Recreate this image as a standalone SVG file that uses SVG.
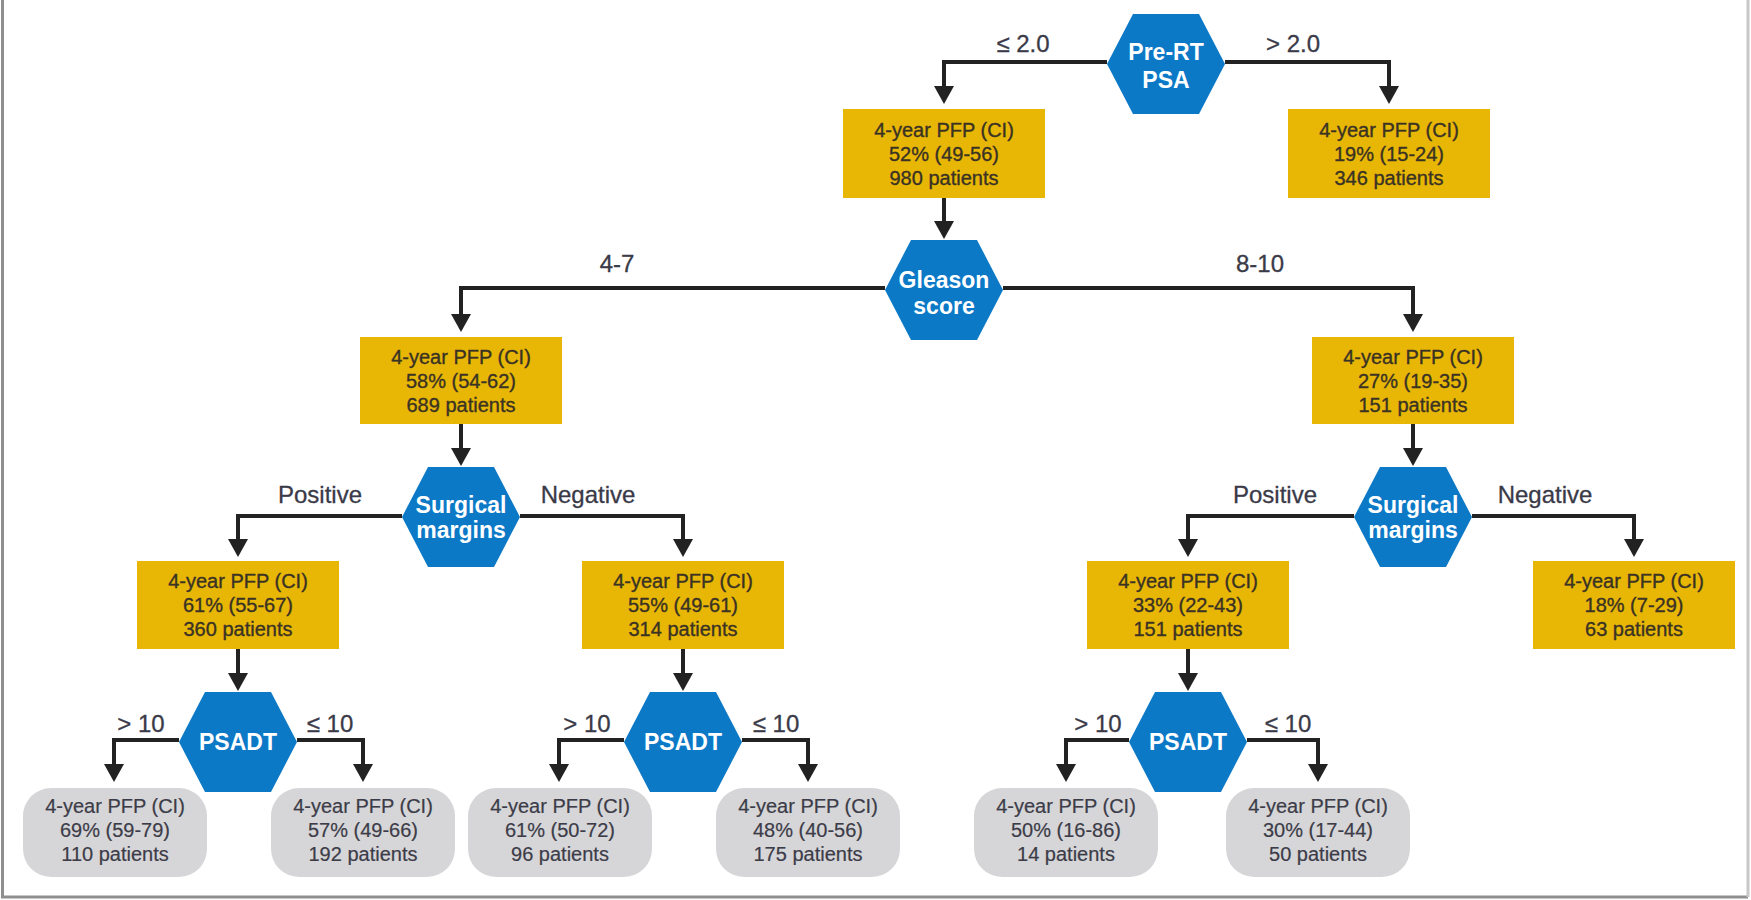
<svg xmlns="http://www.w3.org/2000/svg" xmlns:xlink="http://www.w3.org/1999/xlink" width="1751" height="900" viewBox="0 0 1751 900">
<style>
.box{fill:#E8B706}
.leaf{fill:#D6D6D8}
.hex{fill:#0C79C7}
.bt{font-family:"Liberation Sans",Arial,sans-serif;font-size:20px;fill:#3a3224;stroke:#3a3224;stroke-width:0.35;text-anchor:middle}
.lt{font-family:"Liberation Sans",Arial,sans-serif;font-size:20px;fill:#3c3c48;stroke:#3c3c48;stroke-width:0.2;text-anchor:middle}
.ht{font-family:"Liberation Sans",Arial,sans-serif;font-size:23px;font-weight:bold;fill:#ffffff;text-anchor:middle}
.el{font-family:"Liberation Sans",Arial,sans-serif;font-size:24px;fill:#3a3a48;stroke:#3a3a48;stroke-width:0.3;text-anchor:middle}
.cn{fill:none;stroke:#222222;stroke-width:4;marker-end:url(#ah)}
</style>
<defs>
<marker id="ah" markerUnits="userSpaceOnUse" markerWidth="18" markerHeight="20" viewBox="0 0 18 20" refX="8" refY="10" orient="auto">
<path d="M0,0 L18,10 L0,20 z" fill="#222222"/>
</marker>
<polygon id="hexshape" points="-59,0 -33,-50 33,-50 59,0 33,50 -33,50"/>
</defs>
<rect width="1751" height="900" fill="#ffffff"/>
<path d="M2.5,0 V897 H1748" fill="none" stroke="#8f8f8f" stroke-width="3"/>
<path d="M1748,0 V897" fill="none" stroke="#c8c8c8" stroke-width="3"/>

<g id="connectors">
<path class="cn" d="M1107,62 H944 V94"/>
<path class="cn" d="M1225,62 H1389 V94"/>
<path class="cn" d="M944,198 V229"/>
<path class="cn" d="M885,288 H461 V322"/>
<path class="cn" d="M1003,288 H1413 V322"/>
<path class="cn" d="M461,424 V456"/>
<path class="cn" d="M402,516 H238 V547"/>
<path class="cn" d="M520,516 H683 V547"/>
<path class="cn" d="M1413,424 V456"/>
<path class="cn" d="M1354,516 H1188 V547"/>
<path class="cn" d="M1472,516 H1634 V547"/>
<path class="cn" d="M238,649 V681"/>
<path class="cn" d="M179,740 H114 V772"/>
<path class="cn" d="M297,740 H363 V772"/>
<path class="cn" d="M683,649 V681"/>
<path class="cn" d="M624,740 H559 V772"/>
<path class="cn" d="M742,740 H808 V772"/>
<path class="cn" d="M1188,649 V681"/>
<path class="cn" d="M1129,740 H1066 V772"/>
<path class="cn" d="M1247,740 H1318 V772"/>
<text class="el" x="1023" y="52">≤ 2.0</text>
<text class="el" x="1293" y="52">&gt; 2.0</text>
<text class="el" x="617" y="272">4-7</text>
<text class="el" x="1260" y="272">8-10</text>
<text class="el" x="320" y="503">Positive</text>
<text class="el" x="588" y="503">Negative</text>
<text class="el" x="1275" y="503">Positive</text>
<text class="el" x="1545" y="503">Negative</text>
<text class="el" x="141" y="732">&gt; 10</text>
<text class="el" x="330" y="732">≤ 10</text>
<text class="el" x="587" y="732">&gt; 10</text>
<text class="el" x="776" y="732">≤ 10</text>
<text class="el" x="1098" y="732">&gt; 10</text>
<text class="el" x="1288" y="732">≤ 10</text>
</g>

<g id="n-prert">
<use xlink:href="#hexshape" class="hex" x="1166" y="64"/>
<text class="ht" x="1166" y="60">Pre-RT</text>
<text class="ht" x="1166" y="88">PSA</text>
</g>
<g id="n-a">
<rect class="box" x="843" y="109" width="202" height="89"/>
<text class="bt" x="944" y="137">4-year PFP (CI)</text>
<text class="bt" x="944" y="161">52% (49-56)</text>
<text class="bt" x="944" y="185">980 patients</text>
</g>
<g id="n-b">
<rect class="box" x="1288" y="109" width="202" height="89"/>
<text class="bt" x="1389" y="137">4-year PFP (CI)</text>
<text class="bt" x="1389" y="161">19% (15-24)</text>
<text class="bt" x="1389" y="185">346 patients</text>
</g>
<g id="n-gleason">
<use xlink:href="#hexshape" class="hex" x="944" y="290"/>
<text class="ht" x="944" y="288">Gleason</text>
<text class="ht" x="944" y="314">score</text>
</g>
<g id="n-c">
<rect class="box" x="360" y="337" width="202" height="87"/>
<text class="bt" x="461" y="364">4-year PFP (CI)</text>
<text class="bt" x="461" y="388">58% (54-62)</text>
<text class="bt" x="461" y="412">689 patients</text>
</g>
<g id="n-d">
<rect class="box" x="1312" y="337" width="202" height="87"/>
<text class="bt" x="1413" y="364">4-year PFP (CI)</text>
<text class="bt" x="1413" y="388">27% (19-35)</text>
<text class="bt" x="1413" y="412">151 patients</text>
</g>
<g id="n-sm-left">
<use xlink:href="#hexshape" class="hex" x="461" y="517"/>
<text class="ht" x="461" y="513">Surgical</text>
<text class="ht" x="461" y="538">margins</text>
</g>
<g id="n-sm-right">
<use xlink:href="#hexshape" class="hex" x="1413" y="517"/>
<text class="ht" x="1413" y="513">Surgical</text>
<text class="ht" x="1413" y="538">margins</text>
</g>
<g id="n-e">
<rect class="box" x="137" y="561" width="202" height="88"/>
<text class="bt" x="238" y="588">4-year PFP (CI)</text>
<text class="bt" x="238" y="612">61% (55-67)</text>
<text class="bt" x="238" y="636">360 patients</text>
</g>
<g id="n-f">
<rect class="box" x="582" y="561" width="202" height="88"/>
<text class="bt" x="683" y="588">4-year PFP (CI)</text>
<text class="bt" x="683" y="612">55% (49-61)</text>
<text class="bt" x="683" y="636">314 patients</text>
</g>
<g id="n-g">
<rect class="box" x="1087" y="561" width="202" height="88"/>
<text class="bt" x="1188" y="588">4-year PFP (CI)</text>
<text class="bt" x="1188" y="612">33% (22-43)</text>
<text class="bt" x="1188" y="636">151 patients</text>
</g>
<g id="n-h">
<rect class="box" x="1533" y="561" width="202" height="88"/>
<text class="bt" x="1634" y="588">4-year PFP (CI)</text>
<text class="bt" x="1634" y="612">18% (7-29)</text>
<text class="bt" x="1634" y="636">63 patients</text>
</g>
<g id="n-psadt-1">
<use xlink:href="#hexshape" class="hex" x="238" y="742"/>
<text class="ht" x="238" y="750">PSADT</text>
</g>
<g id="n-psadt-2">
<use xlink:href="#hexshape" class="hex" x="683" y="742"/>
<text class="ht" x="683" y="750">PSADT</text>
</g>
<g id="n-psadt-3">
<use xlink:href="#hexshape" class="hex" x="1188" y="742"/>
<text class="ht" x="1188" y="750">PSADT</text>
</g>
<g id="n-i">
<rect class="leaf" x="23" y="788" width="184" height="89" rx="28"/>
<text class="lt" x="115" y="813">4-year PFP (CI)</text>
<text class="lt" x="115" y="837">69% (59-79)</text>
<text class="lt" x="115" y="861">110 patients</text>
</g>
<g id="n-j">
<rect class="leaf" x="271" y="788" width="184" height="89" rx="28"/>
<text class="lt" x="363" y="813">4-year PFP (CI)</text>
<text class="lt" x="363" y="837">57% (49-66)</text>
<text class="lt" x="363" y="861">192 patients</text>
</g>
<g id="n-k">
<rect class="leaf" x="468" y="788" width="184" height="89" rx="28"/>
<text class="lt" x="560" y="813">4-year PFP (CI)</text>
<text class="lt" x="560" y="837">61% (50-72)</text>
<text class="lt" x="560" y="861">96 patients</text>
</g>
<g id="n-l">
<rect class="leaf" x="716" y="788" width="184" height="89" rx="28"/>
<text class="lt" x="808" y="813">4-year PFP (CI)</text>
<text class="lt" x="808" y="837">48% (40-56)</text>
<text class="lt" x="808" y="861">175 patients</text>
</g>
<g id="n-m">
<rect class="leaf" x="974" y="788" width="184" height="89" rx="28"/>
<text class="lt" x="1066" y="813">4-year PFP (CI)</text>
<text class="lt" x="1066" y="837">50% (16-86)</text>
<text class="lt" x="1066" y="861">14 patients</text>
</g>
<g id="n-n">
<rect class="leaf" x="1226" y="788" width="184" height="89" rx="28"/>
<text class="lt" x="1318" y="813">4-year PFP (CI)</text>
<text class="lt" x="1318" y="837">30% (17-44)</text>
<text class="lt" x="1318" y="861">50 patients</text>
</g>
</svg>
